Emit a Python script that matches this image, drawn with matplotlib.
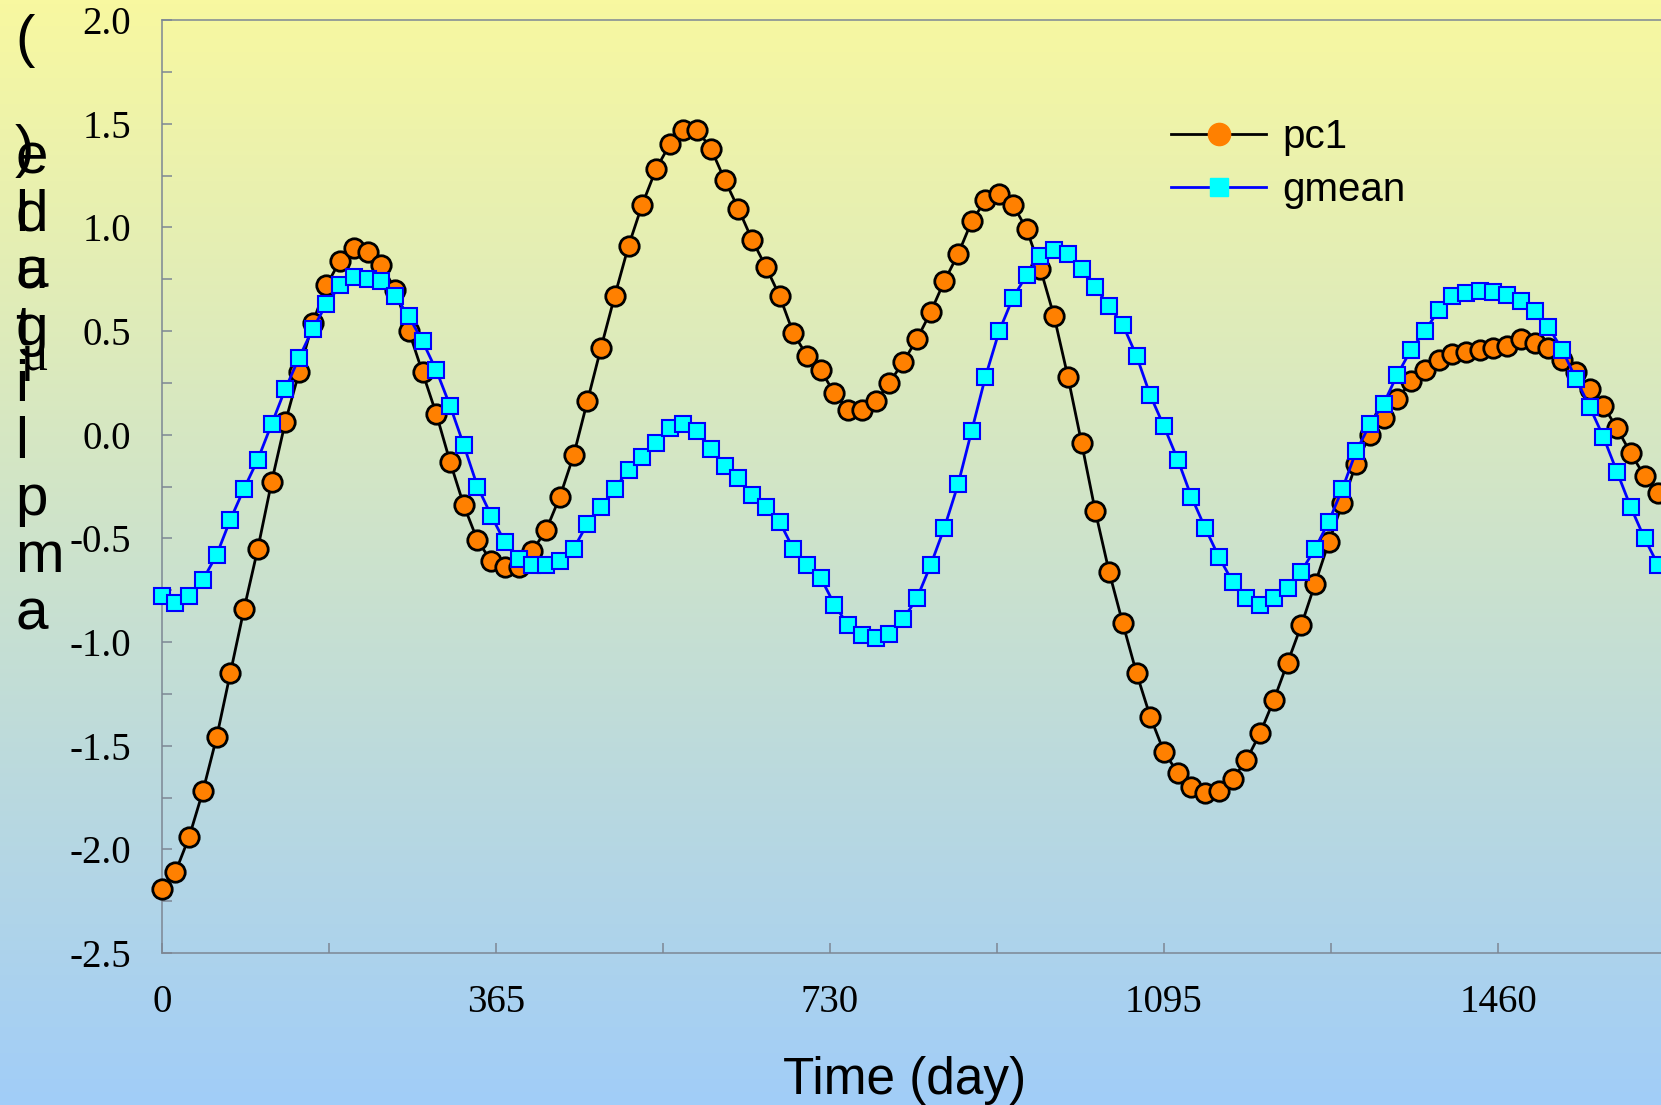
import numpy as np
import matplotlib
matplotlib.use("Agg")
import matplotlib.pyplot as plt
from matplotlib.lines import Line2D

plt.rcParams["axes.unicode_minus"] = False

# sample values, one every 15 days
pc1 = [-2.19, -2.11, -1.94, -1.72, -1.46, -1.15, -0.84, -0.55, -0.23, 0.06,
       0.30, 0.54, 0.72, 0.84, 0.90, 0.88, 0.82, 0.70, 0.50, 0.30,
       0.10, -0.13, -0.34, -0.51, -0.61, -0.64, -0.64, -0.56, -0.46, -0.30,
       -0.10, 0.16, 0.42, 0.67, 0.91, 1.11, 1.28, 1.40, 1.47, 1.47,
       1.38, 1.23, 1.09, 0.94, 0.81, 0.67, 0.49, 0.38, 0.31, 0.20,
       0.12, 0.12, 0.16, 0.25, 0.35, 0.46, 0.59, 0.74, 0.87, 1.03,
       1.13, 1.16, 1.11, 0.99, 0.80, 0.57, 0.28, -0.04, -0.37, -0.66,
       -0.91, -1.15, -1.36, -1.53, -1.63, -1.70, -1.73, -1.72, -1.66, -1.57,
       -1.44, -1.28, -1.10, -0.92, -0.72, -0.52, -0.33, -0.14, 0.00, 0.08,
       0.17, 0.26, 0.31, 0.36, 0.39, 0.40, 0.41, 0.42, 0.43, 0.46,
       0.44, 0.42, 0.36, 0.30, 0.22, 0.14, 0.03, -0.09, -0.20, -0.28]

gmean = [-0.78, -0.81, -0.78, -0.70, -0.58, -0.41, -0.26, -0.12, 0.05, 0.22,
         0.37, 0.51, 0.63, 0.72, 0.76, 0.75, 0.74, 0.67, 0.57, 0.45,
         0.31, 0.14, -0.05, -0.25, -0.39, -0.52, -0.60, -0.63, -0.63, -0.61,
         -0.55, -0.43, -0.35, -0.26, -0.17, -0.11, -0.04, 0.03, 0.05, 0.02,
         -0.07, -0.15, -0.21, -0.29, -0.35, -0.42, -0.55, -0.63, -0.69, -0.82,
         -0.92, -0.965, -0.98, -0.96, -0.89, -0.79, -0.63, -0.45, -0.24, 0.02,
         0.28, 0.50, 0.66, 0.77, 0.86, 0.89, 0.87, 0.80, 0.71, 0.62,
         0.53, 0.38, 0.19, 0.04, -0.12, -0.30, -0.45, -0.59, -0.71, -0.79,
         -0.82, -0.79, -0.74, -0.66, -0.55, -0.42, -0.26, -0.08, 0.05, 0.15,
         0.29, 0.41, 0.50, 0.60, 0.67, 0.685, 0.695, 0.69, 0.675, 0.645,
         0.595, 0.52, 0.41, 0.27, 0.135, -0.01, -0.18, -0.35, -0.50, -0.63]

days = np.arange(len(pc1)) * 15
xticks = [0, 365, 730, 1095, 1460]
yticks = [-2.5, -2.0, -1.5, -1.0, -0.5, 0.0, 0.5, 1.0, 1.5, 2.0]

W, H = 1661, 1105
fig = plt.figure(figsize=(W / 100, H / 100), dpi=100)


def px(x, y):
    return x / W, 1 - y / H


# yellow to blue background over the whole figure
bg = fig.add_axes([0, 0, 1, 1], zorder=-10)
top = np.array([248, 248, 160]) / 255
bot = np.array([161, 205, 248]) / 255
t = np.linspace(0, 1, 256)[:, None]
grad = (1 - t) * top + t * bot
bg.imshow(grad[:, None, :], aspect="auto", extent=[0, 1, 0, 1])
bg.axis("off")

ax = fig.add_axes([161.7 / W, 1 - 953 / H, 1 - 161.7 / W, (953 - 20) / H])
ax.set_facecolor("none")

ax.plot(days, pc1, "-o", color="black", lw=2, mfc="#FF8000", mec="black",
        ms=14, mew=2, clip_on=False, zorder=3)
ax.plot(days, gmean, "-s", color="#0000FF", lw=2, mfc="#00FFFF", mec="#0000FF",
        ms=11.5, mew=1.5, clip_on=False, zorder=4)

ax.set_xlim(0, 1638)
ax.set_ylim(-2.5, 2.0)
ax.set_xticks(xticks)
ax.set_xticklabels([str(v) for v in xticks])
ax.set_xticks([182.5, 547.5, 912.5, 1277.5], minor=True)
ax.set_yticks(yticks)
ax.set_yticklabels(["%.1f" % v for v in yticks])
ax.set_yticks(np.arange(-2.25, 2.0, 0.5), minor=True)

spine_c = "#7d8794"
for s in ["left", "bottom", "top"]:
    ax.spines[s].set_color(spine_c)
    ax.spines[s].set_linewidth(1.1)
ax.spines["right"].set_visible(False)
ax.tick_params(which="both", direction="in", length=7, width=1.1, color=spine_c,
               top=False, right=False)
ax.tick_params(axis="y", pad=22, labelsize=28)
ax.tick_params(axis="x", pad=22, labelsize=28)
for lab in ax.get_xticklabels() + ax.get_yticklabels():
    lab.set_fontfamily("Liberation Serif")

fig.text(*px(905, 1094), "Time (day)", ha="center", va="baseline",
         fontsize=37, family="Liberation Sans")

# garbled vertical y label, one glyph per line
word = "amplitude"
for k, ch in enumerate(word):
    fig.text(*px(15, 629 - 56.9 * k), ch, ha="left", va="baseline",
             fontsize=42, family="Liberation Sans")
unit = [("(", 56), (")", 166), ("l", 231), ("a", 288), ("g", 345)]
for ch, yb in unit:
    fig.text(*px(15, yb), ch, ha="left", va="baseline",
             fontsize=42, family="Liberation Sans")
fig.text(*px(21, 370), "\u03bc", ha="left", va="baseline",
         fontsize=38, family="Liberation Serif")

handles = [
    Line2D([], [], color="black", lw=2, marker="o", mfc="#FF8000",
           mec="#FF8000", ms=16),
    Line2D([], [], color="#0000FF", lw=2, marker="s", mfc="#00FFFF",
           mec="#00FFFF", ms=13),
]
leg = ax.legend(handles, ["pc1", "gmean"], loc="upper left",
                bbox_to_anchor=px(1171, 118), bbox_transform=fig.transFigure,
                frameon=False, borderpad=0, borderaxespad=0, handlelength=2.36,
                handletextpad=0.4, labelspacing=0.37,
                prop={"family": "Liberation Sans", "size": 29})

fig.savefig("out.png", dpi=100)
